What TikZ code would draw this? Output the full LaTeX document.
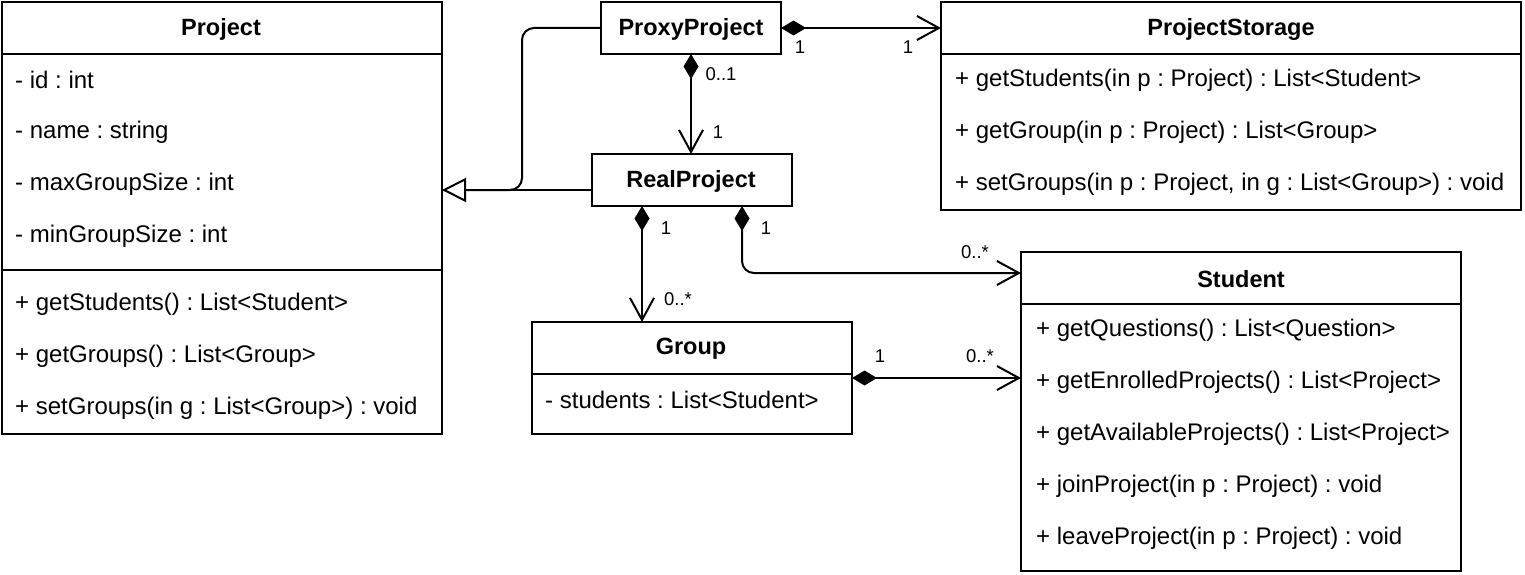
\documentclass[tikz,border=0pt]{standalone}
\usepackage{fontspec}
\setmainfont{Liberation Sans}
\usetikzlibrary{arrows.meta,calc}
\frenchspacing
\begin{document}
\begin{tikzpicture}[x=1bp,y=-1bp,
  box/.style={draw, line width=2bp, anchor=north west, inner sep=0, outer sep=0},
  sep/.style={line width=2bp},
  title/.style={font=\fontsize{23.5bp}{28bp}\selectfont\bfseries, inner sep=0},
  member/.style={anchor=west, font=\fontsize{24bp}{28bp}\selectfont, inner sep=0},
  lbl/.style={font=\fontsize{18.5bp}{22bp}\selectfont, inner sep=0},
  conn/.style={line width=2bp},
  comp/.style={conn, {Diamond[length=25bp,width=15bp]}-{Straight Barb[length=22bp,width=24bp]}},
  inh/.style={conn, -{Triangle[open,length=24bp,width=24bp,fill=white]}}
]
\useasboundingbox (0,0) rectangle (1525,575);

% Project
\node[box, minimum width=440bp, minimum height=432bp] (project) at (2,2) {};
\draw[sep] (2,54) -- (442,54);
\draw[sep] (2,270) -- (442,270);
\node[title] (projectT) at (221,29) {Project};
\node[member] (pa1) at (15,80) {- id : int};
\node[member] (pa2) at (15,132) {- name : string};
\node[member] (pa3) at (15,184) {- maxGroupSize : int};
\node[member] (pa4) at (15,236) {- minGroupSize : int};
\node[member] (pm1) at (15,304) {+ getStudents() : List<Student>};
\node[member] (pm2) at (15,356) {+ getGroups() : List<Group>};
\node[member] (pm3) at (15,408) {+ setGroups(in g : List<Group>) : void};

% ProxyProject
\node[box, minimum width=180bp, minimum height=52bp] (proxy) at (601,2) {};
\node[title] (proxyT) at (691,29) {ProxyProject};

% ProjectStorage
\node[box, minimum width=580bp, minimum height=208bp] (storage) at (941,2) {};
\draw[sep] (941,54) -- (1521,54);
\node[title] (storageT) at (1231,29) {ProjectStorage};
\node[member] (sm1) at (955,80) {+ getStudents(in p : Project) : List<Student>};
\node[member] (sm2) at (955,132) {+ getGroup(in p : Project) : List<Group>};
\node[member] (sm3) at (955,184) {+ setGroups(in p : Project, in g : List<Group>) : void};

% RealProject
\node[box, minimum width=200bp, minimum height=52bp] (real) at (592,154) {};
\node[title] (realT) at (691,181) {RealProject};

% Group
\node[box, minimum width=320bp, minimum height=112bp] (group) at (532,322) {};
\draw[sep] (532,374) -- (852,374);
\node[title] (groupT) at (691,349) {Group};
\node[member] (ga1) at (545,400) {- students : List<Student>};

% Student
\node[box, minimum width=440bp, minimum height=319bp] (student) at (1021,252) {};
\draw[sep] (1021,304) -- (1461,304);
\node[title] (studentT) at (1241,279) {Student};
\node[member] (stm1) at (1036,330) {+ getQuestions() : List<Question>};
\node[member] (stm2) at (1036,382) {+ getEnrolledProjects() : List<Project>};
\node[member] (stm3) at (1036,434) {+ getAvailableProjects() : List<Project>};
\node[member] (stm4) at (1036,486) {+ joinProject(in p : Project) : void};
\node[member] (stm5) at (1036,538) {+ leaveProject(in p : Project) : void};

% Connectors
\path ([yshift=-10bp]real.west) coordinate (rpl);
\draw[conn, rounded corners=12bp] (proxy.west) -- ++(-79,0) |- (rpl -| project.east);
\draw[inh] (rpl) -- (rpl -| project.east);

\draw[comp] (proxy.east) -- (proxy.east -| storage.west);
\node[lbl] (l1) at (800,47) {1};
\node[lbl] (l2) at (908,47) {1};

\draw[comp] (proxy.south) -- (proxy.south |- real.north);
\node[lbl] (l3) at (721,74) {0..1};
\node[lbl] (l4) at (718,132) {1};

\draw[comp] ([xshift=-50bp]real.south) -- ([xshift=-50bp]real.south |- group.north);
\node[lbl] (l5) at (666,228) {1};
\node[lbl] (l6) at (678,299) {0..*};

\draw[comp, rounded corners=12bp] ([xshift=50bp]real.south) |- ([yshift=-21bp]student.north west);
\node[lbl] (l7) at (766,228) {1};
\node[lbl] (l8) at (975,252) {0..*};

\draw[comp] (group.east) -- (group.east -| student.west);
\node[lbl] (l9) at (880,356) {1};
\node[lbl] (l10) at (980,356) {0..*};
\end{tikzpicture}
\end{document}
